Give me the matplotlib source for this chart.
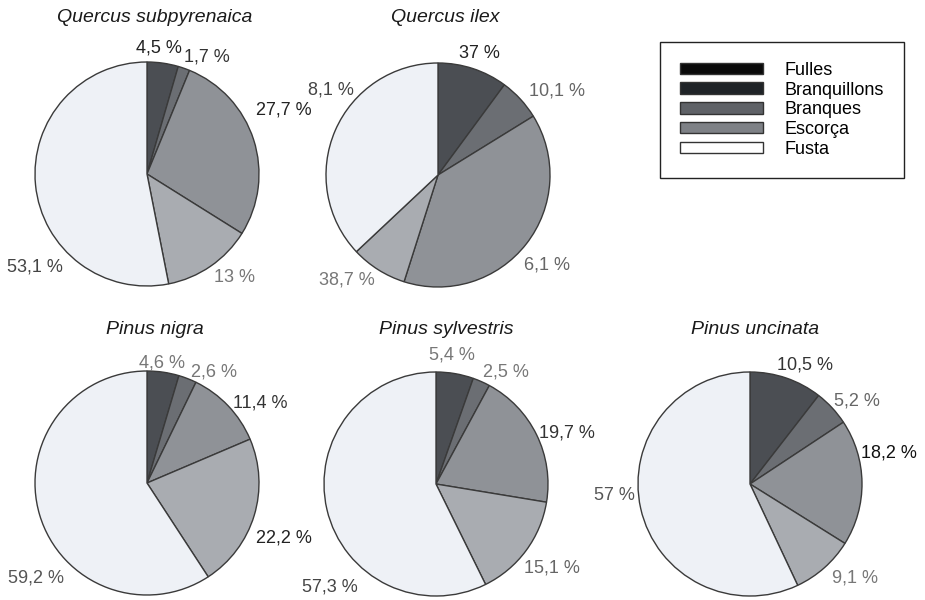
import matplotlib.pyplot as plt
from matplotlib.patches import Patch

plt.rcParams['font.family'] = ['Liberation Sans', 'DejaVu Sans']

W, H = 925, 600

# biomass fractions per tree component
parts = ["Fulles", "Branquillons", "Branques", "Escorça", "Fusta"]
pie_colors = ["#4b4e53", "#6b6e73", "#8f9297", "#a9acb1", "#eef1f6"]
legend_colors = ["#0a0a0a", "#1f2327", "#5f6267", "#7e8186", "#ffffff"]

species = ["Quercus subpyrenaica", "Quercus ilex", "Pinus nigra",
           "Pinus sylvestris", "Pinus uncinata"]

q_subpyrenaica = [4.5, 1.7, 27.7, 13, 53.1]
q_ilex = [10.1, 6.1, 38.7, 8.1, 37]
p_nigra = [4.6, 2.6, 11.4, 22.2, 59.2]
p_sylvestris = [5.4, 2.5, 19.7, 15.1, 57.3]
p_uncinata = [10.5, 5.2, 18.2, 9.1, 57]
values = [q_subpyrenaica, q_ilex, p_nigra, p_sylvestris, p_uncinata]

# layout in pixels, measured from the top left corner
centers = [(147, 174), (438, 175), (147, 483), (436, 484), (750, 484)]
radius = 112
title_pos = [(155, 17), (445, 17), (155, 330), (446, 330), (755, 330)]
label_pos = [
    [(159, 48), (207, 57), (284, 110), (234, 277), (35, 267)],
    [(557, 91), (547, 265), (347, 280), (331, 90), (479, 53)],
    [(162, 363), (214, 372), (260, 403), (284, 538), (36, 578)],
    [(452, 355), (506, 372), (567, 433), (552, 568), (330, 587)],
    [(805, 365), (857, 401), (889, 453), (855, 578), (614, 495)],
]
label_colors = [
    ["#222222", "#333333", "#222222", "#777777", "#444444"],
    ["#666666", "#666666", "#777777", "#444444", "#222222"],
    ["#777777", "#777777", "#333333", "#222222", "#555555"],
    ["#777777", "#777777", "#333333", "#666666", "#444444"],
    ["#333333", "#666666", "#111111", "#777777", "#555555"],
]


def pct(v):
    return f"{v:g}".replace(".", ",") + " %"


fig = plt.figure(figsize=(W / 100, H / 100), dpi=100)
ax = fig.add_axes([0, 0, 1, 1])

for i in range(len(species)):
    cx, cy = centers[i]
    ax.pie(values[i], colors=pie_colors, startangle=90, counterclock=False,
           center=(cx, H - cy), radius=radius,
           wedgeprops=dict(edgecolor="#3a3a3a", linewidth=1.0))
    tx, ty = title_pos[i]
    ax.text(tx, H - ty, species[i], fontsize=14, style="italic",
            ha="center", va="center", color="#1a1a1a")
    for v, (lx, ly), c in zip(values[i], label_pos[i], label_colors[i]):
        ax.text(lx, H - ly, pct(v), fontsize=13, ha="center", va="center",
                color=c)

handles = [Patch(facecolor=c, edgecolor="#333333", linewidth=1.0)
           for c in legend_colors]
leg = ax.legend(handles, parts, loc="upper left",
                bbox_to_anchor=(660, H - 42), bbox_transform=ax.transData,
                fontsize=13, handlelength=4.6, handleheight=0.6,
                handletextpad=1.2, labelspacing=0.15, borderpad=1.1,
                fancybox=False, framealpha=1, edgecolor="#222222",
                borderaxespad=0)
leg.get_frame().set_linewidth(1.0)

ax.set_xlim(0, W)
ax.set_ylim(0, H)
ax.set_aspect("equal")
ax.axis("off")

fig.savefig("out.png", dpi=100, facecolor="white")
